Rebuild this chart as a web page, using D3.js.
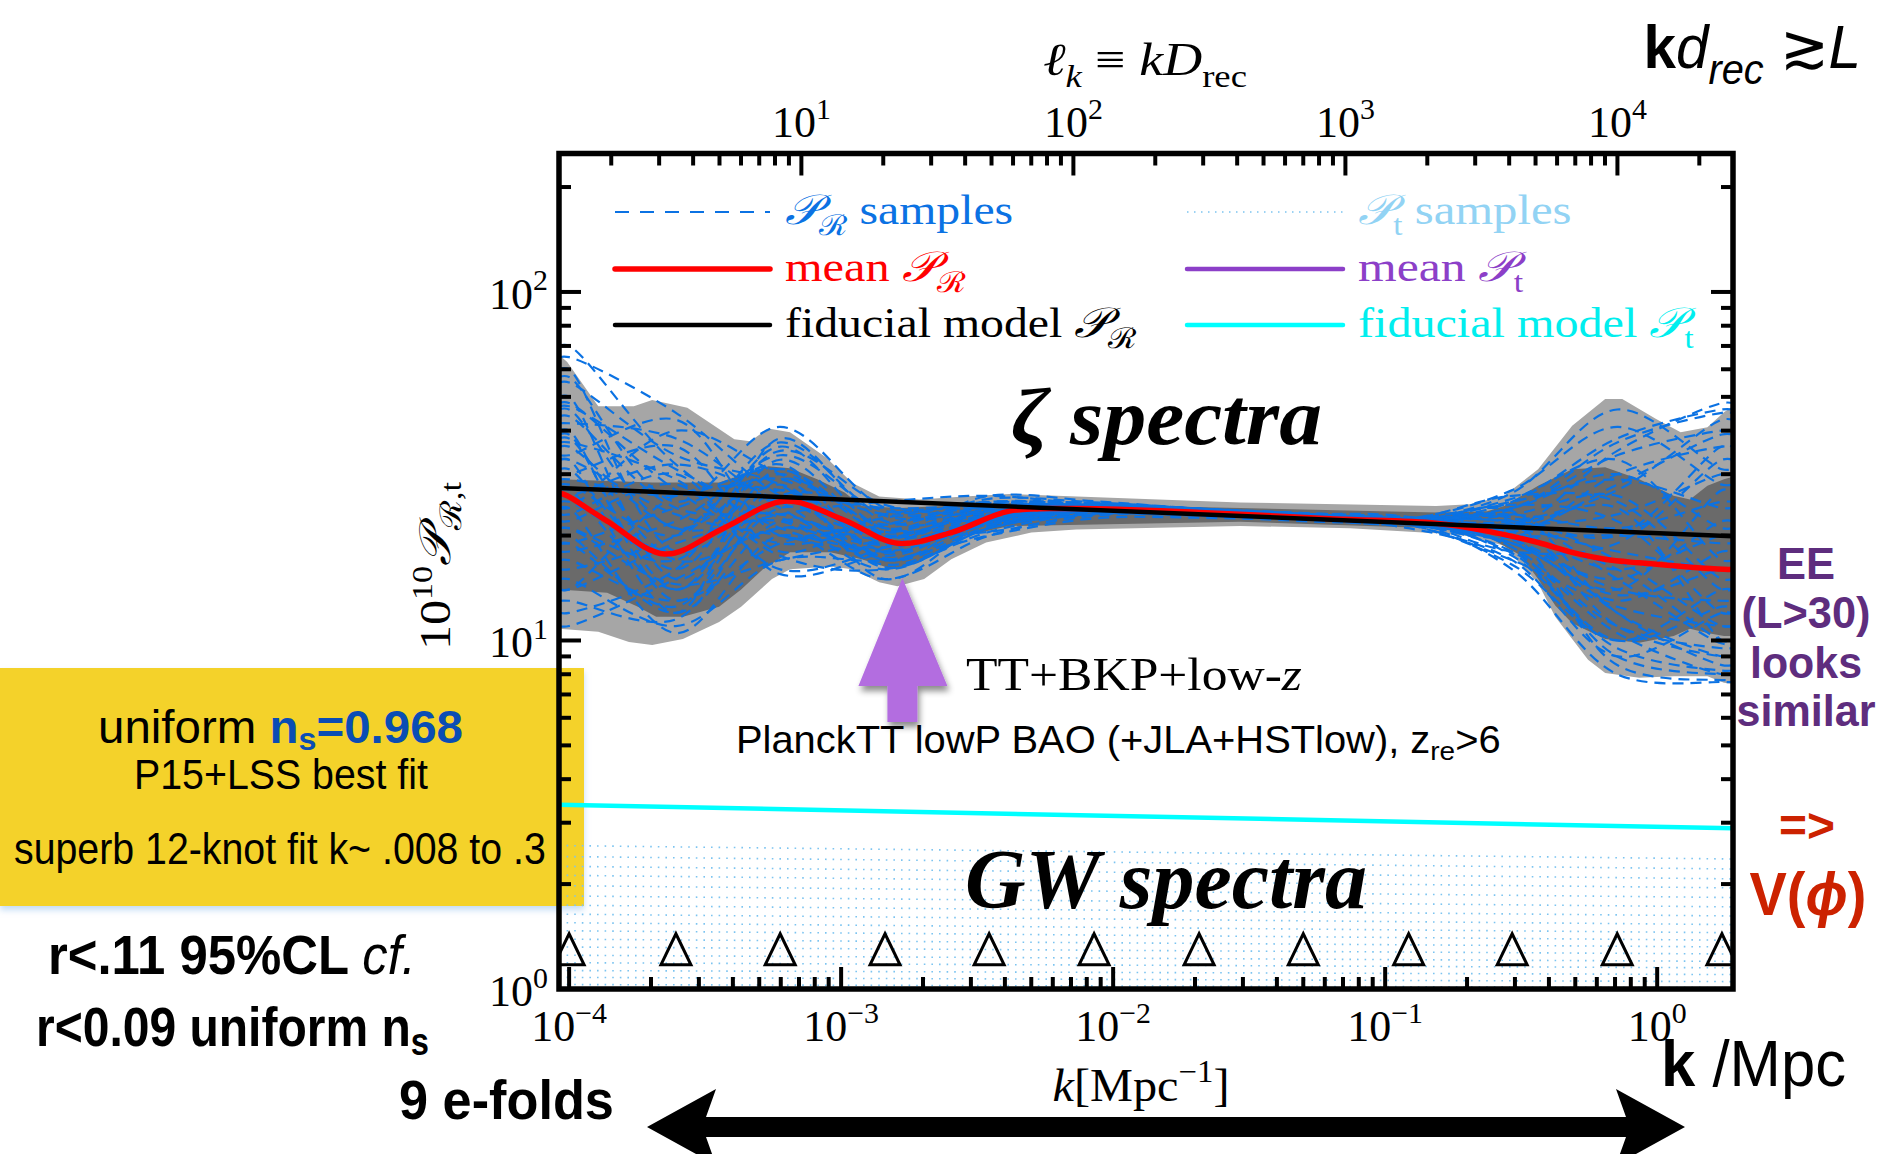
<!DOCTYPE html>
<html><head><meta charset="utf-8">
<script src="https://cdn.jsdelivr.net/npm/d3@7"></script>
<style>
html,body{margin:0;padding:0;background:#fff;}
svg{display:block;}
</style></head>
<body>
<svg id="chart" width="1880" height="1154"></svg>
<script>
// ---------------- data ----------------
const kDomain = [9.18e-5, 1.90];   // k [Mpc^-1]
const pDomain = [1, 249.6];        // 10^10 P
const Drec = 14000;                // Mpc, distance to recombination (top axis l_k = k D_rec)

// spline knot positions in k (marked with triangles)
const knotK = [1.0e-4, 2.47e-4, 5.97e-4, 1.45e-3, 3.50e-3, 8.51e-3, 0.0207, 0.0500, 0.122, 0.293, 0.713, 1.73];

// curvature power spectrum samples, values at the knots
const prSamples = [
  [70, 32, 21, 18.5, 22.5, 23.6, 23.0, 22.4, 21.8, 21.5, 12, 9.0],
  [46, 21, 30, 20.5, 23.2, 24.1, 23.4, 22.7, 22.1, 25.0, 38, 46],
  [27, 14, 26, 16.2, 21.0, 23.1, 23.1, 22.5, 21.6, 18.0, 10.5, 8.0],
  [20, 12, 22, 19.0, 24.0, 24.5, 23.7, 22.9, 22.3, 24.0, 30, 21],
  [34, 43, 20, 22.5, 25.0, 24.7, 23.9, 23.0, 22.0, 19.0, 14, 27],
  [15, 11, 17, 17.0, 20.0, 22.4, 22.5, 22.0, 21.0, 17.0, 9.0, 12],
  [57, 25, 41, 24.0, 22.0, 23.8, 23.2, 22.6, 22.2, 26.5, 46, 31],
  [25, 18, 28, 15.0, 22.0, 24.2, 23.6, 22.9, 21.9, 20.0, 16, 10],
  [12, 16, 36, 21.0, 26.0, 25.1, 23.9, 23.2, 22.5, 22.0, 20, 36],
  [40, 13, 24, 20.0, 20.5, 23.0, 23.3, 22.7, 22.0, 16.0, 8.0, 7.6],
  [30, 36, 18, 23.0, 24.0, 24.2, 23.4, 22.4, 21.7, 23.0, 26, 15],
  [18, 22, 32, 17.0, 23.0, 24.6, 23.9, 23.1, 22.6, 18.5, 11, 9.5],
  [50, 15, 27, 19.0, 21.5, 23.5, 23.1, 22.5, 21.8, 21.0, 35, 48],
  [22, 28, 16, 18.5, 24.5, 24.0, 23.5, 22.7, 22.0, 19.5, 13, 18],
  [33, 12, 38, 22.0, 22.5, 23.2, 22.8, 22.3, 21.6, 24.5, 22, 12],
  [14, 19, 23, 25.0, 26.0, 24.5, 23.6, 22.8, 22.3, 17.5, 9.5, 8.2],
  [26, 32, 25, 16.5, 21.0, 23.8, 23.7, 23.0, 22.1, 20.5, 28, 39],
  [38, 17, 21, 20.5, 23.5, 24.3, 23.2, 22.6, 21.9, 22.5, 17, 11],
  [19, 24, 29, 18.0, 22.0, 23.6, 23.4, 22.9, 22.4, 27.0, 41, 28],
  [48, 27, 19, 21.5, 24.0, 24.6, 23.7, 22.6, 21.5, 16.5, 10, 14],
  [24, 10.5, 20, 15.0, 20.0, 22.8, 22.9, 22.4, 21.8, 19.0, 15, 22],
  [16, 20, 34, 23.5, 25.0, 24.8, 23.9, 23.2, 22.6, 21.5, 24, 10],
  [42, 38, 24, 17.5, 22.5, 23.4, 23.1, 22.5, 21.9, 23.5, 12, 8.5],
  [21, 14.5, 17, 19.5, 23.0, 24.1, 23.5, 22.8, 22.1, 18.0, 19, 33],
  [29, 26, 31, 21.0, 21.5, 23.3, 23.2, 22.6, 22.0, 25.5, 33, 17],
  [65, 45, 26, 20.0, 23.5, 24.4, 23.4, 22.7, 21.7, 20.0, 8.5, 7.7],
  [13, 11.5, 26, 24.0, 24.5, 24.7, 23.8, 23.1, 22.3, 22.0, 27, 43],
  [36, 21, 22, 16.0, 21.0, 23.0, 23.0, 22.4, 21.9, 19.5, 14, 13],
  [23, 30, 15.5, 18.0, 22.8, 23.9, 23.3, 22.6, 21.9, 21.0, 18, 16],
  [31, 16, 33, 20.0, 21.8, 23.7, 23.6, 23.0, 22.2, 23.0, 21, 25],
  [44, 24, 23, 19.5, 23.8, 24.0, 23.3, 22.6, 21.8, 22.0, 11, 9],
  [17, 13, 19, 21.5, 24.8, 24.6, 23.8, 23.0, 22.4, 24.0, 34, 40],
  [55, 34, 28, 17.0, 21.2, 23.4, 23.0, 22.3, 21.5, 17.0, 12.5, 11],
  [28, 20, 37, 22.8, 23.5, 23.9, 23.2, 22.7, 22.2, 20.5, 16, 20],
  [11, 15, 21, 18.0, 22.0, 23.8, 23.5, 22.9, 22.3, 25.0, 29, 24],
  [37, 29, 17.5, 16.0, 20.5, 23.2, 23.2, 22.6, 21.9, 18.5, 9.0, 8.0],
  [24, 40, 30, 23.0, 24.2, 24.3, 23.5, 22.8, 22.0, 21.5, 23, 30],
  [60, 18, 25, 19.8, 22.8, 24.0, 23.4, 22.7, 22.1, 19.0, 13.5, 16],
  [19, 12.5, 29, 21.5, 25.5, 24.9, 23.9, 23.1, 22.4, 23.8, 37, 45],
  [33, 23, 20, 17.8, 21.5, 23.3, 23.0, 22.5, 21.7, 17.8, 10, 12.5],
  [21, 17, 35, 24.5, 23.0, 23.6, 23.3, 22.8, 22.3, 26.0, 25, 14],
  [47, 31, 22.5, 18.8, 22.2, 23.9, 23.6, 22.9, 22.0, 20.0, 20, 19],
  [14, 26, 27, 20.5, 24.6, 24.4, 23.4, 22.6, 21.8, 22.5, 15, 9.8],
  [39, 14, 31, 17.2, 21.8, 23.5, 23.3, 22.8, 22.3, 19.8, 30, 36]
];

// mean curvature spectrum [k, P]
const meanPR = [
  [9.18e-5, 26.5], [9.84e-5, 26.0], [1.38e-4, 22.0], [2.25e-4, 17.7], [3.70e-4, 21.0],
  [6.20e-4, 25.1], [1.02e-3, 22.2], [1.61e-3, 19.0], [2.54e-3, 20.4], [4.15e-3, 23.5],
  [7.31e-3, 23.9], [0.0209, 23.3], [0.0655, 22.3], [0.154, 21.7], [0.237, 20.6],
  [0.365, 19.1], [0.487, 17.9], [0.644, 17.1], [0.859, 16.7], [1.76, 16.0], [1.90, 16.0]
];

// 95% band edges [k, P]
const band95Upper = [
  [9.18e-5, 66], [9.84e-5, 63], [1.28e-4, 47], [1.73e-4, 47], [2.02e-4, 49], [2.72e-4, 46.5],
  [4.05e-4, 37.8], [4.63e-4, 37.3], [5.40e-4, 40.6], [6.49e-4, 39.6], [8.81e-4, 33.5],
  [1.10e-3, 28.3], [1.38e-3, 25.9], [1.94e-3, 25.4], [2.83e-3, 25.9], [4.15e-3, 26.3],
  [0.0293, 24.9], [0.154, 24.3], [0.205, 24.6], [0.274, 26.0], [0.365, 31.0], [0.487, 41.3],
  [0.644, 49.3], [0.744, 49.3], [0.991, 43.2], [1.22, 39.6], [1.53, 40.9], [1.76, 45.2], [1.90, 47]
];
const band95Lower = [
  [9.18e-5, 10.8], [1.28e-4, 10.6], [1.66e-4, 9.9], [2.02e-4, 9.7], [2.62e-4, 10.1],
  [3.56e-4, 11.3], [4.29e-4, 12.5], [5.57e-4, 15.0], [6.49e-4, 16.0], [9.12e-4, 16.3],
  [1.10e-3, 16.0], [1.38e-3, 14.7], [1.61e-3, 14.3], [2.02e-3, 15.0], [2.54e-3, 17.1],
  [3.41e-3, 19.1], [5.00e-3, 20.4], [7.31e-3, 20.8], [0.0293, 21.3], [0.0743, 21.0],
  [0.154, 20.3], [0.205, 19.9], [0.274, 18.7], [0.365, 14.6], [0.422, 11.7], [0.487, 10.1],
  [0.557, 8.8], [0.644, 8.07], [0.859, 7.82], [1.15, 7.89], [1.53, 7.89], [1.76, 7.56], [1.90, 7.5]
];
// 68% band edges [k, P]
const band68Upper = [
  [9.18e-5, 29.0], [2.02e-4, 28.4], [3.56e-4, 28.4], [5.40e-4, 31.6], [6.49e-4, 31.2],
  [8.17e-4, 29.0], [1.03e-3, 26.6], [1.19e-3, 24.3], [1.65e-3, 24.0], [4.15e-3, 24.8],
  [0.0293, 24.0], [0.154, 23.3], [0.237, 23.5], [0.274, 24.3], [0.365, 27.8], [0.487, 31.0],
  [0.644, 31.4], [0.859, 29.0], [1.15, 26.0], [1.32, 25.4], [1.53, 27.8], [1.76, 29.0], [1.90, 29.5]
];
const band68Lower = [
  [9.18e-5, 14.0], [1.38e-4, 13.7], [1.79e-4, 12.5], [2.09e-4, 11.7], [2.62e-4, 11.7],
  [3.56e-4, 12.5], [4.29e-4, 14.0], [5.16e-4, 16.0], [6.49e-4, 17.9], [9.12e-4, 17.9],
  [1.19e-3, 17.1], [1.55e-3, 16.0], [1.94e-3, 16.8], [2.35e-3, 18.3], [2.83e-3, 19.9],
  [4.15e-3, 21.3], [0.0293, 21.9], [0.154, 21.0], [0.237, 19.9], [0.316, 17.5], [0.365, 15.0],
  [0.422, 12.6], [0.487, 11.2], [0.644, 10.1], [0.859, 9.85], [1.15, 10.3], [1.32, 10.8],
  [1.53, 10.5], [1.76, 10.3], [1.90, 10.3]
];

// fiducial power-law spectra [k, P]
const fiducialPR = [[9.18e-5, 27.4], [1.90, 19.9]];
const fiducialPt = [[9.18e-5, 3.38], [1.90, 2.89]];

// tensor spectrum samples: values at the two ends of the k range
const ptSampleK = [9.18e-5, 1.90];
const ptSamples = [
  [2.58, 2.36], [2.40, 2.21], [2.25, 2.07], [2.12, 1.95], [1.98, 1.83],
  [1.85, 1.72], [1.74, 1.62], [1.64, 1.53], [1.55, 1.45], [1.47, 1.38],
  [1.39, 1.32], [1.32, 1.26], [1.25, 1.20], [1.19, 1.15], [1.13, 1.10],
  [1.08, 1.05], [1.03, 1.01]
];
const knotMarkerLevel = 1.3;

// ---------------- layout ----------------
const L = 559, R = 1733, T = 153.5, B = 989;
const serif = "'Liberation Serif','DejaVu Serif',serif";
const sans = "'Liberation Sans',Arial,sans-serif";
const C = {
  blue: "#0b72e3", red: "#ff0000", black: "#000", cyan: "#00ffff",
  ptBlue: "#7cc4f0", ptText: "#92d3f4", purple: "#8c3fc8",
  light: "#a6a6a6", dark: "#6a6a6a", yellow: "#f4d22b", nsBlue: "#0a4db4",
  ee: "#5e2d7e", vphi: "#cc2200", arrow: "#b36de0"
};

const svg = d3.select("#chart");
const x = d3.scaleLog().domain(kDomain).range([L, R]);
const y = d3.scaleLog().domain(pDomain).range([B, T]);
const xl = d3.scaleLog().domain([kDomain[0] * Drec, kDomain[1] * Drec]).range([L, R]);

const defs = svg.append("defs");
defs.append("clipPath").attr("id", "plotclip").append("rect")
  .attr("x", L).attr("y", T).attr("width", R - L).attr("height", B - T);
const sh = defs.append("filter").attr("id", "arrowshadow").attr("x", "-30%").attr("y", "-30%").attr("width", "160%").attr("height", "160%");
sh.append("feDropShadow").attr("dx", 2).attr("dy", 5).attr("stdDeviation", 3).attr("flood-color", "#000").attr("flood-opacity", 0.45);
const ysh = defs.append("filter").attr("id", "boxshadow").attr("x", "-5%").attr("y", "-10%").attr("width", "110%").attr("height", "125%");
ysh.append("feDropShadow").attr("dx", 0).attr("dy", 4).attr("stdDeviation", 3).attr("flood-color", "#9cc6ee").attr("flood-opacity", 0.6);

// rich text helper: parts with optional sup/sub
function rich(sel, parts, fs) {
  let shift = 0;
  parts.forEach(p => {
    const target = p.sup ? -0.42 * fs : (p.sub ? (p.drop || 0.26) * fs : 0);
    const ts = sel.append("tspan").text(p.t).attr("dy", (target - shift).toFixed(2));
    shift = target;
    if (p.sup || p.sub) ts.attr("font-size", ((p.scale || 0.68) * fs).toFixed(1));
    if (p.style) ts.attr("font-style", p.style);
    if (p.weight) ts.attr("font-weight", p.weight);
    if (p.fill) ts.attr("fill", p.fill);
    if (p.family) ts.attr("font-family", p.family);
  });
  return sel;
}
// text with optional target width: glyphs are squeezed/stretched horizontally
// about the anchor point so the run spans `len` pixels
function label(px, py, parts, o) {
  const t = svg.append("text").attr("x", px).attr("y", py)
    .attr("font-family", o.family || serif).attr("font-size", o.size)
    .attr("text-anchor", o.anchor || "start").attr("fill", o.fill || "#000");
  if (o.weight) t.attr("font-weight", o.weight);
  if (o.style) t.attr("font-style", o.style);
  rich(t, parts, o.size);
  if (o.len) {
    const w = t.node().getComputedTextLength();
    if (w > 0) {
      const s = o.len / w;
      t.attr("transform", `translate(${px},${py}) scale(${s.toFixed(4)},1) translate(${-px},${-py})`);
    }
  }
  return t;
}

// ---------------- yellow note box (behind plot) ----------------
svg.append("rect").attr("x", 0).attr("y", 668).attr("width", 584).attr("height", 238)
  .attr("fill", C.yellow).attr("filter", "url(#boxshadow)");

// ---------------- plot content ----------------
const plot = svg.append("g").attr("clip-path", "url(#plotclip)");
const lineLin = d3.line().x(d => x(d[0])).y(d => y(d[1]));

function bandPath(upper, lower) {
  const pts = upper.concat(lower.slice().reverse());
  return d3.line().x(d => x(d[0])).y(d => y(d[1])).curve(d3.curveLinearClosed)(pts);
}
plot.append("path").attr("d", bandPath(band95Upper, band95Lower)).attr("fill", C.light);
plot.append("path").attr("d", bandPath(band68Upper, band68Lower)).attr("fill", C.dark);

// tensor samples (dotted)
plot.append("g").selectAll("path").data(ptSamples).join("path")
  .attr("d", s => lineLin(ptSampleK.map((k, i) => [k, s[i]])))
  .attr("fill", "none").attr("stroke", C.ptBlue).attr("stroke-width", 1.6)
  .attr("stroke-dasharray", "1.6,6");

// curvature samples (dashed)
const sampleLine = d3.line().x(d => x(d[0])).y(d => y(d[1])).curve(d3.curveCatmullRom.alpha(0.5));
plot.append("g").selectAll("path").data(prSamples).join("path")
  .attr("d", s => sampleLine([[kDomain[0], s[0]]].concat(knotK.map((k, i) => [k, s[i]]), [[kDomain[1], s[s.length - 1]]])))
  .attr("fill", "none").attr("stroke", C.blue).attr("stroke-width", 2.2)
  .attr("stroke-dasharray", "11,7");

// mean and fiducial
plot.append("path").attr("d", d3.line().x(d => x(d[0])).y(d => y(d[1])).curve(d3.curveCatmullRom.alpha(0.5))(meanPR))
  .attr("fill", "none").attr("stroke", C.red).attr("stroke-width", 5.5).attr("stroke-linecap", "round");
plot.append("path").attr("d", lineLin(fiducialPR))
  .attr("fill", "none").attr("stroke", C.black).attr("stroke-width", 4.5);
plot.append("path").attr("d", lineLin(fiducialPt))
  .attr("fill", "none").attr("stroke", C.cyan).attr("stroke-width", 4.5);

// knot markers
plot.append("g").selectAll("path").data(knotK).join("path")
  .attr("d", k => {
    const cx = x(k), cy = y(knotMarkerLevel);
    return `M${cx - 15},${cy + 15.5}L${cx},${cy - 15.5}L${cx + 15},${cy + 15.5}Z`;
  })
  .attr("fill", "none").attr("stroke", "#000").attr("stroke-width", 3).attr("stroke-linejoin", "miter");

// ---------------- frame & ticks ----------------
const isMajor = t => Math.abs(Math.log10(t) - Math.round(Math.log10(t))) < 1e-9;
const ax = svg.append("g").attr("stroke", "#000").attr("stroke-width", 4);
const majLen = 22, minLen = 12;
x.ticks().filter(t => t >= kDomain[0] && t <= kDomain[1]).forEach(t => {
  const len = isMajor(t) ? majLen : minLen;
  ax.append("line").attr("x1", x(t)).attr("x2", x(t)).attr("y1", B).attr("y2", B - len);
});
xl.ticks().filter(t => t >= xl.domain()[0] && t <= xl.domain()[1]).forEach(t => {
  const len = isMajor(t) ? majLen : minLen;
  ax.append("line").attr("x1", xl(t)).attr("x2", xl(t)).attr("y1", T).attr("y2", T + len);
});
y.ticks().filter(t => t >= pDomain[0] && t <= pDomain[1]).forEach(t => {
  const len = isMajor(t) ? majLen : minLen;
  ax.append("line").attr("x1", L).attr("x2", L + len).attr("y1", y(t)).attr("y2", y(t));
  ax.append("line").attr("x1", R).attr("x2", R - len).attr("y1", y(t)).attr("y2", y(t));
});
svg.append("rect").attr("x", L).attr("y", T).attr("width", R - L).attr("height", B - T)
  .attr("fill", "none").attr("stroke", "#000").attr("stroke-width", 5.5);

// tick labels
const expStr = e => (e < 0 ? "\u2212" + (-e) : String(e));
x.ticks().filter(t => t >= kDomain[0] && t <= kDomain[1] && isMajor(t)).forEach(t => {
  label(x(t), 1041, [{ t: "10" }, { t: expStr(Math.round(Math.log10(t))), sup: true }], { size: 44, anchor: "middle" });
});
xl.ticks().filter(t => isMajor(t) && t >= xl.domain()[0] && t <= xl.domain()[1]).forEach(t => {
  label(xl(t), 137, [{ t: "10" }, { t: expStr(Math.round(Math.log10(t))), sup: true }], { size: 44, anchor: "middle" });
});
y.ticks().filter(t => isMajor(t)).forEach(t => {
  label(548, y(t) + 17, [{ t: "10" }, { t: expStr(Math.round(Math.log10(t))), sup: true }], { size: 44, anchor: "end" });
});

// axis titles
label(1141, 1101, [{ t: "k", style: "italic" }, { t: "[Mpc" }, { t: "\u22121", sup: true }, { t: "]" }], { size: 46, anchor: "middle", len: 177 });
label(1145, 75, [{ t: "\u2113", style: "italic" }, { t: "k", sub: true, style: "italic" }, { t: " \u2261 " }, { t: "kD", style: "italic" }, { t: "rec", sub: true }], { size: 46, anchor: "middle", len: 204 });
const yl = svg.append("text").attr("transform", "translate(450,566) rotate(-90)")
  .attr("font-family", serif).attr("font-size", 44).attr("text-anchor", "middle")
  .attr("textLength", 168).attr("lengthAdjust", "spacingAndGlyphs");
rich(yl, [{ t: "10" }, { t: "10", sup: true }, { t: "\ud835\udcab", style: "italic" }, { t: "\u211b,t", sub: true }], 44);

// ---------------- legend ----------------
const lg = svg.append("g");
const rows = [212, 269, 325];
lg.append("line").attr("x1", 615).attr("x2", 770).attr("y1", rows[0]).attr("y2", rows[0])
  .attr("stroke", C.blue).attr("stroke-width", 2).attr("stroke-dasharray", "14,11");
lg.append("line").attr("x1", 615).attr("x2", 770).attr("y1", rows[1]).attr("y2", rows[1])
  .attr("stroke", C.red).attr("stroke-width", 5.5).attr("stroke-linecap", "round");
lg.append("line").attr("x1", 615).attr("x2", 770).attr("y1", rows[2]).attr("y2", rows[2])
  .attr("stroke", C.black).attr("stroke-width", 4.5).attr("stroke-linecap", "round");
lg.append("line").attr("x1", 1187).attr("x2", 1343).attr("y1", rows[0]).attr("y2", rows[0])
  .attr("stroke", C.ptBlue).attr("stroke-width", 1.5).attr("stroke-dasharray", "1.5,5.5");
lg.append("line").attr("x1", 1187).attr("x2", 1343).attr("y1", rows[1]).attr("y2", rows[1])
  .attr("stroke", C.purple).attr("stroke-width", 4.5).attr("stroke-linecap", "round");
lg.append("line").attr("x1", 1187).attr("x2", 1343).attr("y1", rows[2]).attr("y2", rows[2])
  .attr("stroke", C.cyan).attr("stroke-width", 4.5).attr("stroke-linecap", "round");

const P = "\ud835\udcab", Rc = "\u211b";
label(785, rows[0] + 12, [{ t: P, style: "italic" }, { t: Rc, sub: true }, { t: " samples" }], { size: 42, fill: C.blue, len: 228 });
label(785, rows[1] + 12, [{ t: "mean " }, { t: P, style: "italic" }, { t: Rc, sub: true }], { size: 42, fill: C.red, len: 180 });
label(785, rows[2] + 12, [{ t: "fiducial model " }, { t: P, style: "italic" }, { t: Rc, sub: true }], { size: 42, fill: "#000", len: 352 });
label(1358, rows[0] + 12, [{ t: P, style: "italic" }, { t: "t", sub: true }, { t: " samples" }], { size: 42, fill: C.ptText, len: 213 });
label(1358, rows[1] + 12, [{ t: "mean " }, { t: P, style: "italic" }, { t: "t", sub: true }], { size: 42, fill: C.purple, len: 165 });
label(1358, rows[2] + 12, [{ t: "fiducial model " }, { t: P, style: "italic" }, { t: "t", sub: true }], { size: 42, fill: "#00eeee", len: 335 });

// ---------------- in-plot titles ----------------
label(1011, 444, [{ t: "\u03b6 spectra" }], { size: 80, weight: "bold", style: "italic", len: 311 });
label(965, 908, [{ t: "GW spectra" }], { size: 84, weight: "bold", style: "italic", len: 402 });

// purple arrow pointing at the dip, with dataset labels
const tipX = x(1.68e-3), tipY = y(15.1);
svg.append("path")
  .attr("d", `M${tipX},${tipY}L${tipX + 45},${tipY + 108}L${tipX + 15},${tipY + 108}L${tipX + 15},${tipY + 144}L${tipX - 15},${tipY + 144}L${tipX - 15},${tipY + 108}L${tipX - 44},${tipY + 108}Z`)
  .attr("fill", C.arrow).attr("filter", "url(#arrowshadow)");
label(966, 690, [{ t: "TT+BKP+low-" }, { t: "z", style: "italic" }], { size: 46, len: 336 });
label(736, 753, [{ t: "PlanckTT lowP BAO (+JLA+HSTlow), z" }, { t: "re", sub: true, scale: 0.7, drop: 0.18 }, { t: ">6" }], { size: 38, family: sans, len: 765 });

// ---------------- side annotations ----------------
label(98, 743, [{ t: "uniform " }, { t: "n", weight: "bold", fill: C.nsBlue }, { t: "s", sub: true, drop: 0.16, weight: "bold", fill: C.nsBlue }, { t: "=0.968", weight: "bold", fill: C.nsBlue }], { size: 46, family: sans, len: 365 });
label(134, 789, [{ t: "P15+LSS best fit" }], { size: 42, family: sans, len: 294 });
label(14, 864, [{ t: "superb 12-knot fit k~ .008 to .3" }], { size: 44, family: sans, len: 532 });

label(48, 974, [{ t: "r<.11 95%CL " }, { t: "cf.", style: "italic", weight: "normal" }], { size: 56, family: sans, weight: "bold", len: 368 });
label(36, 1046, [{ t: "r<0.09 uniform n" }, { t: "s", sub: true, drop: 0.16 }], { size: 56, family: sans, weight: "bold", len: 393 });
label(399, 1119, [{ t: "9 e-folds" }], { size: 56, family: sans, weight: "bold", len: 215 });

label(1661, 1086, [{ t: "k", weight: "bold" }, { t: " /Mpc" }], { size: 64, family: sans, len: 185 });
label(1861, 68, [{ t: "k", weight: "bold" }, { t: "d", style: "italic" }, { t: "rec", sub: true, style: "italic" }, { t: " \u2273" }, { t: "L", style: "italic" }], { size: 62, family: sans, anchor: "end", len: 218 });

const eeRows = [["EE", 579, 58], ["(L>30)", 628, 129], ["looks", 678, 112], ["similar", 726, 139]];
eeRows.forEach(r => label(1806, r[1], [{ t: r[0] }], { size: 44, family: sans, weight: "bold", anchor: "middle", fill: C.ee, len: r[2] }));
label(1807, 842, [{ t: "=>" }], { size: 48, family: sans, weight: "bold", anchor: "middle", fill: C.vphi, len: 56 });
label(1808, 915, [{ t: "V(" }, { t: "\u03d5", style: "italic" }, { t: ")" }], { size: 62, family: sans, weight: "bold", anchor: "middle", fill: C.vphi, len: 117 });

// double-headed arrow spanning the k range
const ay = 1127, hw = 10, hh = 38;
svg.append("path")
  .attr("d", `M647,${ay}L716,${ay - hh}L706,${ay - hw}L1626,${ay - hw}L1616,${ay - hh}L1685,${ay}L1616,${ay + hh}L1626,${ay + hw}L706,${ay + hw}L716,${ay + hh}Z`)
  .attr("fill", "#000");
</script>
</body></html>
